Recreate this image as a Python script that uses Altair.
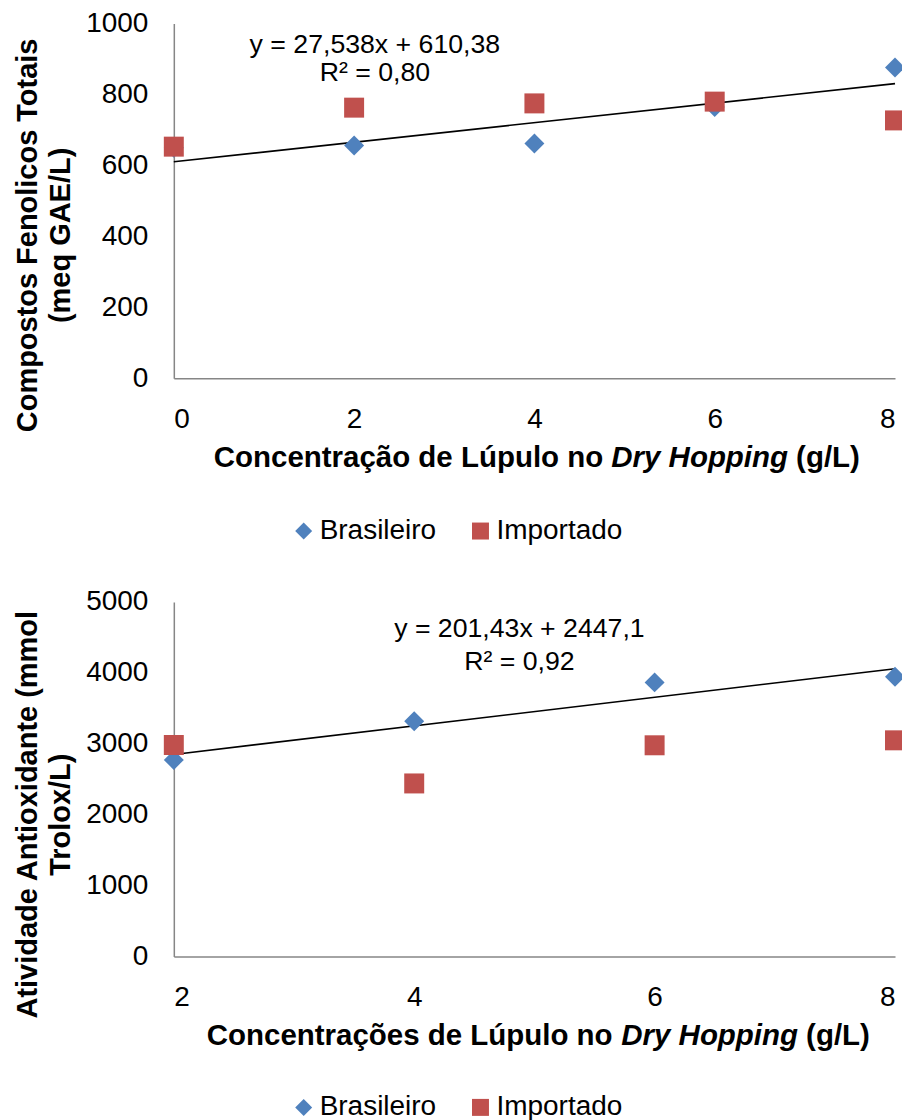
import altair as alt
import pandas as pd

# ---- data ----
series_names = ["Brasileiro", "Importado"]
series_colors = ["#4F81BD", "#C0504D"]
series_shapes = ["diamond", "square"]

top_x = [0, 2, 4, 6, 8]
top_brasileiro = [650, 656, 662, 765, 876]
top_importado = [653, 763, 775, 780, 727]
top_slope, top_intercept = 27.538, 610.38
top_eq_lines = ["y = 27,538x + 610,38", "R² = 0,80"]
top_eq_x = [2.23, 2.23]
top_eq_y = [940, 862]

bot_x = [2, 4, 6, 8]
bot_brasileiro = [2773, 3319, 3866, 3945]
bot_importado = [2983, 2441, 2979, 3049]
bot_slope, bot_intercept = 201.43, 2447.1
bot_eq_lines = ["y = 201,43x + 2447,1", "R² = 0,92"]
bot_eq_x = [4.875, 4.875]
bot_eq_y = [4620, 4155]

FONT = "Liberation Sans"
W, H = 722, 355


def series_df(xs, bras, imp):
    rows = [{"x": x, "y": v, "serie": "Brasileiro"} for x, v in zip(xs, bras)]
    rows += [{"x": x, "y": v, "serie": "Importado"} for x, v in zip(xs, imp)]
    return pd.DataFrame(rows)


def panel(xs, bras, imp, slope, intercept, eq_lines, eq_x, eq_y,
          xdom, xticks, ydom, yticks, ytitle, title_shift, legend_y,
          xt1, xt_start, xt_italic_x, xt_end_x):
    df = series_df(xs, bras, imp)
    trend = pd.DataFrame({"x": [xs[0], xs[-1]],
                          "y": [slope * xs[0] + intercept, slope * xs[-1] + intercept]})
    eq = pd.DataFrame({"x": eq_x, "y": eq_y, "t": eq_lines})

    xs_ = alt.Scale(domain=xdom, nice=False, zero=False)
    ys_ = alt.Scale(domain=ydom, nice=False)
    xax = alt.Axis(values=xticks, title=None, format="d", labelPadding=27)
    yax = alt.Axis(values=yticks, title=ytitle, format="d", labelPadding=26,
                   titlePadding=10, titleLineHeight=33, titleY=H / 2 + title_shift)

    pts = alt.Chart(df).mark_point(filled=True, opacity=1, size=400).encode(
        x=alt.X("x:Q", scale=xs_, axis=xax),
        y=alt.Y("y:Q", scale=ys_, axis=yax),
        color=alt.Color("serie:N", scale=alt.Scale(domain=series_names, range=series_colors),
                        legend=alt.Legend(title=None, orient="none", legendX=116,
                                          legendY=legend_y,
                                          direction="horizontal", labelFontSize=28,
                                          labelFont=FONT, labelColor="black",
                                          symbolSize=289, columnPadding=30, labelOffset=2,
                                          symbolStrokeWidth=0, padding=0)),
        shape=alt.Shape("serie:N", scale=alt.Scale(domain=series_names, range=series_shapes),
                        legend=None),
        order=alt.Order("ord:Q"),
    ).transform_calculate(ord="datum.serie == 'Brasileiro' ? 0 : 1")

    line = alt.Chart(trend).mark_line(color="black", strokeWidth=1.6).encode(
        x=alt.X("x:Q", scale=xs_), y=alt.Y("y:Q", scale=ys_))

    eqt = alt.Chart(eq).mark_text(font=FONT, fontSize=26.7, color="black",
                                  align="center", baseline="middle").encode(
        x=alt.X("x:Q", scale=xs_), y=alt.Y("y:Q", scale=ys_), text="t:N")

    ty = H + 89
    common = dict(font=FONT, fontSize=29.5, fontWeight="bold", align="left",
                  baseline="alphabetic", color="black")
    t1 = alt.Chart(pd.DataFrame({"t": [xt1]})).mark_text(**common).encode(
        x=alt.value(xt_start), y=alt.value(ty), text="t:N")
    t2 = alt.Chart(pd.DataFrame({"t": ["Dry Hopping"]})).mark_text(
        fontStyle="italic", **common).encode(
        x=alt.value(xt_italic_x), y=alt.value(ty), text="t:N")
    t3 = alt.Chart(pd.DataFrame({"t": ["(g/L)"]})).mark_text(**common).encode(
        x=alt.value(xt_end_x), y=alt.value(ty), text="t:N")

    return alt.layer(line, pts, eqt, t1, t2, t3).properties(width=W, height=H)


top = panel(top_x, top_brasileiro, top_importado, top_slope, top_intercept,
            top_eq_lines, top_eq_x, top_eq_y, [0, 8], [0, 2, 4, 6, 8], [0, 1000],
            [0, 200, 400, 600, 800, 1000],
            ["Compostos Fenolicos Totais", "(meq GAE/L)"], 34, 494,
            "Concentração de Lúpulo no", 40, 438, 623)

bot = panel(bot_x, bot_brasileiro, bot_importado, bot_slope, bot_intercept,
            bot_eq_lines, bot_eq_x, bot_eq_y, [2, 8], [2, 4, 6, 8], [0, 5000],
            [0, 1000, 2000, 3000, 4000, 5000],
            ["Atividade Antioxidante (mmol", "Trolox/L)"], 35, 492,
            "Concentrações de Lúpulo no", 33, 448, 633)

chart = alt.vconcat(top, bot, spacing=224, bounds="flush").resolve_scale(
    color="independent", shape="independent"
).configure_view(stroke=None).configure_axis(
    grid=False, ticks=False, tickSize=0, domainColor="#868686", domainWidth=1.5,
    labelFont=FONT, labelFontSize=28, labelColor="black",
    titleFont=FONT, titleFontSize=29, titleFontWeight="bold", titleColor="black",
).properties(background="white", padding={"left": 5, "top": 1, "right": -3, "bottom": 2})

chart.save("out.html", embed_options={"renderer": "svg", "actions": False})
